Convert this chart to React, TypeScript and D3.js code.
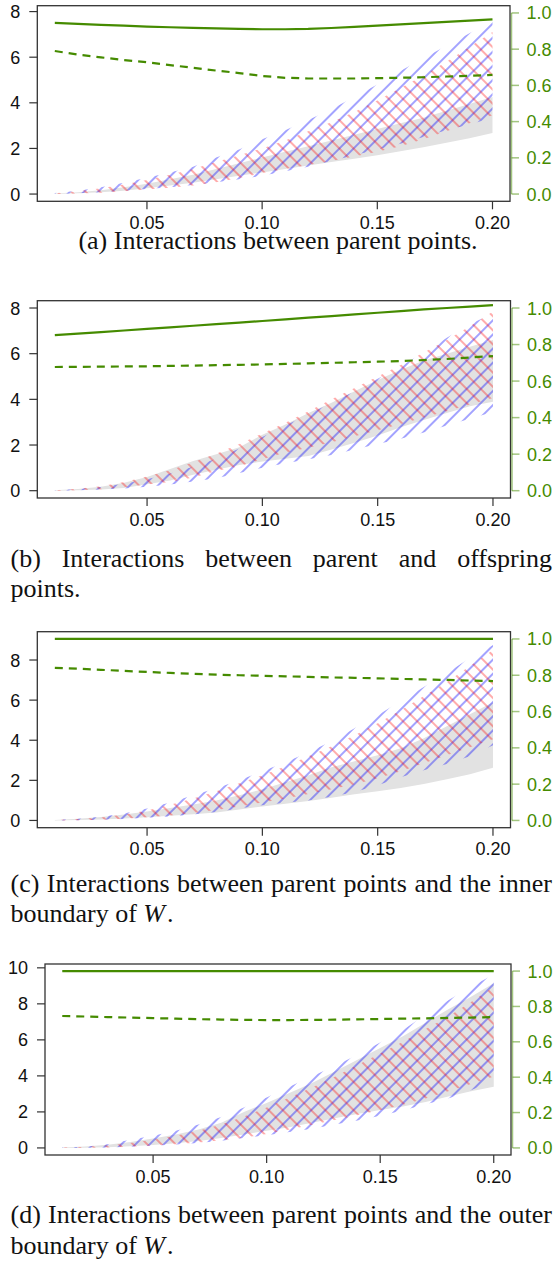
import React, { useEffect, useRef } from 'react';
import * as d3 from 'd3';

// x values shared by all four panels
const xs = [0.01, 0.02, 0.03, 0.04, 0.05, 0.06, 0.07, 0.08, 0.09, 0.10,
    0.11, 0.12, 0.13, 0.14, 0.15, 0.16, 0.17, 0.18, 0.19, 0.20];
const xTicks = [0.05, 0.10, 0.15, 0.20];
const rightTicks = [0, 0.2, 0.4, 0.6, 0.8, 1.0];

// (a) parent points
const aSolid = [0.945, 0.940, 0.934, 0.930, 0.925, 0.921, 0.918, 0.915, 0.912, 0.910, 0.910, 0.912, 0.917, 0.923, 0.930, 0.937, 0.944, 0.951, 0.958, 0.965];
const aDashed = [0.79, 0.77, 0.755, 0.74, 0.728, 0.712, 0.697, 0.682, 0.668, 0.652, 0.642, 0.638, 0.638, 0.638, 0.64, 0.642, 0.645, 0.649, 0.653, 0.658];
const aGreyLo = [0.0, 0.03, 0.08, 0.15, 0.25, 0.38, 0.5, 0.65, 0.8, 0.95, 1.1, 1.25, 1.4, 1.55, 1.7, 1.88, 2.05, 2.25, 2.45, 2.68];
const aGreyHi = [0.02, 0.08, 0.17, 0.3, 0.45, 0.65, 0.85, 1.1, 1.35, 1.6, 1.85, 2.1, 2.35, 2.6, 2.85, 3.1, 3.35, 3.65, 3.95, 4.26];
const aBlueLo = [0.0, 0.03, 0.08, 0.15, 0.22, 0.3, 0.4, 0.52, 0.65, 0.8, 1.0, 1.2, 1.45, 1.7, 1.95, 2.2, 2.5, 2.8, 3.05, 3.35];
const aBlueHi = [0.05, 0.15, 0.3, 0.5, 0.72, 0.95, 1.2, 1.6, 1.95, 2.4, 2.8, 3.25, 3.72, 4.26, 4.8, 5.4, 5.95, 6.5, 7.05, 7.6];
const aRedLo = [0.0, 0.02, 0.06, 0.12, 0.2, 0.28, 0.38, 0.52, 0.7, 0.92, 1.1, 1.27, 1.45, 1.65, 1.85, 2.1, 2.4, 2.75, 3.1, 3.45];
const aRedHi = [0.04, 0.12, 0.25, 0.42, 0.62, 0.85, 1.1, 1.4, 1.7, 2.0, 2.35, 2.75, 3.15, 3.6, 4.1, 4.65, 5.2, 5.8, 6.45, 7.1];

// (b) parent and offspring
const bSolid = [0.852, 0.86, 0.868, 0.877, 0.886, 0.894, 0.903, 0.912, 0.92, 0.929, 0.938, 0.947, 0.956, 0.965, 0.974, 0.983, 0.992, 1.0, 1.008, 1.016];
const bDashed = [0.677, 0.678, 0.679, 0.68, 0.681, 0.683, 0.685, 0.687, 0.689, 0.691, 0.694, 0.697, 0.7, 0.703, 0.706, 0.71, 0.715, 0.721, 0.729, 0.737];
const bGreyLo = [0.0, 0.02, 0.05, 0.12, 0.28, 0.45, 0.7, 0.92, 1.12, 1.28, 1.4, 1.52, 1.8, 2.1, 2.42, 2.78, 3.1, 3.4, 3.7, 3.9];
const bGreyHi = [0.02, 0.07, 0.17, 0.35, 0.6, 0.95, 1.3, 1.6, 1.9, 2.45, 2.9, 3.4, 3.85, 4.35, 4.85, 5.3, 5.7, 6.0, 6.3, 6.6];
const bBlueLo = [0.0, 0.02, 0.05, 0.1, 0.17, 0.27, 0.4, 0.55, 0.78, 1.0, 1.2, 1.38, 1.56, 1.8, 2.05, 2.28, 2.55, 2.85, 3.15, 3.45];
const bBlueHi = [0.02, 0.07, 0.16, 0.3, 0.5, 0.75, 1.05, 1.4, 1.85, 2.35, 2.85, 3.35, 3.85, 4.35, 4.9, 5.45, 6.05, 6.7, 7.3, 7.75];
const bRedLo = [0.0, 0.02, 0.06, 0.15, 0.27, 0.38, 0.58, 0.86, 1.07, 1.38, 1.67, 1.88, 2.12, 2.38, 2.65, 2.92, 3.2, 3.48, 3.77, 4.06];
const bRedHi = [0.02, 0.08, 0.2, 0.38, 0.62, 0.9, 1.25, 1.62, 2.05, 2.5, 2.98, 3.48, 4.0, 4.5, 5.0, 5.5, 6.05, 6.6, 7.2, 7.85];

// (c) parent points and inner boundary
const cSolid = [1, 1, 1, 1, 1, 1, 1, 1, 1, 1, 1, 1, 1, 1, 1, 1, 1, 1, 1, 1];
const cDashed = [0.841, 0.836, 0.83, 0.824, 0.818, 0.813, 0.808, 0.803, 0.8, 0.797, 0.794, 0.791, 0.788, 0.786, 0.783, 0.78, 0.777, 0.774, 0.771, 0.768];
const cGreyLo = [0.0, 0.02, 0.05, 0.1, 0.16, 0.23, 0.31, 0.4, 0.55, 0.7, 0.83, 0.97, 1.13, 1.3, 1.45, 1.62, 1.82, 2.05, 2.3, 2.63];
const cGreyHi = [0.02, 0.08, 0.17, 0.3, 0.45, 0.62, 0.8, 1.0, 1.25, 1.55, 1.9, 2.25, 2.65, 2.95, 3.25, 3.6, 4.1, 4.7, 5.3, 5.9];
const cBlueLo = [0.0, 0.01, 0.03, 0.07, 0.13, 0.2, 0.3, 0.42, 0.6, 0.76, 0.88, 1.0, 1.18, 1.42, 1.75, 2.15, 2.5, 2.82, 3.2, 3.75];
const cBlueHi = [0.02, 0.08, 0.18, 0.35, 0.6, 0.9, 1.25, 1.6, 2.0, 2.45, 2.9, 3.4, 3.95, 4.6, 5.25, 5.95, 6.65, 7.35, 8.1, 8.75];
const cRedLo = [0.0, 0.01, 0.04, 0.09, 0.16, 0.25, 0.37, 0.52, 0.7, 0.9, 1.1, 1.32, 1.55, 1.8, 2.1, 2.45, 2.85, 3.25, 3.65, 4.05];
const cRedHi = [0.02, 0.07, 0.15, 0.3, 0.5, 0.78, 1.1, 1.45, 1.85, 2.25, 2.7, 3.2, 3.7, 4.25, 4.85, 5.5, 6.2, 6.9, 7.7, 8.5];

// (d) parent points and outer boundary
const dSolid = [1, 1, 1, 1, 1, 1, 1, 1, 1, 1, 1, 1, 1, 1, 1, 1, 1, 1, 1, 1];
const dDashed = [0.746, 0.743, 0.74, 0.737, 0.734, 0.731, 0.728, 0.726, 0.724, 0.723, 0.723, 0.724, 0.725, 0.727, 0.729, 0.731, 0.733, 0.735, 0.737, 0.74];
const dGreyLo = [0.0, 0.01, 0.04, 0.09, 0.16, 0.26, 0.38, 0.55, 0.75, 0.95, 1.15, 1.4, 1.65, 1.88, 2.1, 2.3, 2.55, 2.85, 3.15, 3.4];
const dGreyHi = [0.02, 0.08, 0.18, 0.33, 0.52, 0.75, 1.02, 1.4, 2.0, 2.5, 3.05, 3.6, 4.25, 4.9, 5.55, 6.2, 6.95, 7.7, 8.4, 9.15];
const dBlueLo = [0.0, 0.01, 0.03, 0.07, 0.12, 0.19, 0.28, 0.4, 0.55, 0.7, 0.88, 1.07, 1.3, 1.52, 1.78, 2.08, 2.42, 2.75, 3.2, 3.75];
const dBlueHi = [0.02, 0.07, 0.2, 0.45, 0.67, 0.95, 1.3, 1.72, 2.25, 2.8, 3.4, 3.98, 4.55, 5.18, 5.85, 6.55, 7.4, 8.2, 8.95, 9.63];
const dRedLo = [0.0, 0.01, 0.03, 0.07, 0.13, 0.2, 0.3, 0.42, 0.57, 0.78, 1.02, 1.28, 1.55, 1.82, 2.1, 2.4, 2.75, 3.15, 3.55, 3.96];
const dRedHi = [0.02, 0.06, 0.14, 0.28, 0.45, 0.68, 0.95, 1.3, 1.75, 2.25, 2.8, 3.35, 3.95, 4.6, 5.25, 5.9, 6.6, 7.3, 8.1, 8.95];

const GREEN = '#458B00';

const panels = [
    { id: 'a', box: [37.3, 510, 5.7, 201.3], ymax: 7.94, yTicks: [0, 2, 4, 6, 8],
      solid: aSolid, dashed: aDashed, greyLo: aGreyLo, greyHi: aGreyHi, blueLo: aBlueLo, blueHi: aBlueHi, redLo: aRedLo, redHi: aRedHi },
    { id: 'b', box: [37.3, 510.5, 300.7, 498], ymax: 8.0, yTicks: [0, 2, 4, 6, 8],
      solid: bSolid, dashed: bDashed, greyLo: bGreyLo, greyHi: bGreyHi, blueLo: bBlueLo, blueHi: bBlueHi, redLo: bRedLo, redHi: bRedHi },
    { id: 'c', box: [37.3, 510.5, 631.7, 827.7], ymax: 9.05, yTicks: [0, 2, 4, 6, 8],
      solid: cSolid, dashed: cDashed, greyLo: cGreyLo, greyHi: cGreyHi, blueLo: cBlueLo, blueHi: cBlueHi, redLo: cRedLo, redHi: cRedHi },
    { id: 'd', box: [45, 511, 964, 1155], ymax: 9.82, yTicks: [0, 2, 4, 6, 8, 10],
      solid: dSolid, dashed: dDashed, greyLo: dGreyLo, greyHi: dGreyHi, blueLo: dBlueLo, blueHi: dBlueHi, redLo: dRedLo, redHi: dRedHi },
];

const captions = [
    { lines: ['(a) Interactions between parent points.'], ys: [249], centered: true, italicW: false },
    { lines: ['(b) Interactions between parent and offspring', 'points.'], ys: [567, 597], centered: false, italicW: false },
    { lines: ['(c) Interactions between parent points and the inner', 'boundary of '], ys: [892, 922], centered: false, italicW: true },
    { lines: ['(d) Interactions between parent points and the outer', 'boundary of '], ys: [1223, 1254], centered: false, italicW: true },
];

const CAP_LEFT = 10.5;
const CAP_RIGHT = 552;
const capFont = { fontFamily: '"Liberation Serif", "Times New Roman", serif', fontSize: 26, fill: '#111' };
const tickFont = { fontFamily: '"Liberation Sans", Arial, sans-serif', fontSize: 18 };

function JustifiedLine({ text, y }: { text: string; y: number }) {
    const ref = useRef<SVGTextElement>(null);
    useEffect(() => {
        const el = ref.current;
        if (!el) return;
        el.style.wordSpacing = '0px';
        const natural = el.getComputedTextLength();
        const gaps = text.split(' ').length - 1;
        if (gaps > 0) el.style.wordSpacing = `${(CAP_RIGHT - CAP_LEFT - natural) / gaps}px`;
    }, [text]);
    return <text ref={ref} x={CAP_LEFT} y={y} style={capFont}>{text}</text>;
}

function Panel({ p }: { p: typeof panels[number] }) {
    const [left, right, top, bottom] = p.box;
    const x = d3.scaleLinear().domain([0.01 - 0.0076, 0.20 + 0.0076]).range([left, right]);
    const pad = p.ymax * 0.04;
    const y = d3.scaleLinear().domain([-pad, p.ymax + pad]).range([bottom, top]);
    const yR = d3.scaleLinear().domain([-0.04, 1.04]).range([bottom, top]);

    const band = (lo: number[], hi: number[]) =>
        d3.area<number>().x((_, i) => x(xs[i])).y0((_, i) => y(lo[i])).y1((_, i) => y(hi[i]))(xs) || '';
    const line = (vals: number[]) =>
        d3.line<number>().x((_, i) => x(xs[i])).y((_, i) => yR(vals[i]))(xs) || '';

    return (
        <g>
            <path d={band(p.greyLo, p.greyHi)} fill="#e2e2e2" />
            <path d={band(p.blueLo, p.blueHi)} fill="url(#hatchBlue)" />
            <path d={band(p.redLo, p.redHi)} fill="url(#hatchRed)" />
            <path d={line(p.solid)} fill="none" stroke={GREEN} strokeWidth={2.2} />
            <path d={line(p.dashed)} fill="none" stroke={GREEN} strokeWidth={2.2} strokeDasharray="8,6" />

            <rect x={left} y={top} width={right - left} height={bottom - top} fill="none" stroke="#333" strokeWidth={1.3} />

            {/* bottom axis */}
            {xTicks.map(t => (
                <g key={t}>
                    <line x1={x(t)} x2={x(t)} y1={bottom} y2={bottom + 8} stroke="#333" strokeWidth={1.2} />
                    <text x={x(t)} y={bottom + 27.5} textAnchor="middle" style={tickFont} fill="#111">{t.toFixed(2)}</text>
                </g>
            ))}

            {/* left axis */}
            {p.yTicks.map(t => (
                <g key={t}>
                    <line x1={left - 8} x2={left} y1={y(t)} y2={y(t)} stroke="#333" strokeWidth={1.2} />
                    <text x={left - 17} y={y(t) + 6.5} textAnchor="end" style={tickFont} fill="#111">{t}</text>
                </g>
            ))}

            {/* right axis */}
            <line x1={right + 1.5} x2={right + 1.5} y1={yR(0)} y2={yR(1)} stroke={GREEN} strokeOpacity={0.5} strokeWidth={1.5} />
            {rightTicks.map(t => (
                <g key={t}>
                    <line x1={right + 1.5} x2={right + 9} y1={yR(t)} y2={yR(t)} stroke={GREEN} strokeOpacity={0.5} strokeWidth={1.5} />
                    <text x={right + 16.5} y={yR(t) + 6.5} style={tickFont} fill={GREEN}>{t.toFixed(1)}</text>
                </g>
            ))}
        </g>
    );
}

export default function App() {
    useEffect(() => {
        document.body.style.margin = '0';
        document.body.style.background = '#fff';
    }, []);

    return (
        <svg width={557} height={1263} viewBox="0 0 557 1263" style={{ display: 'block', background: '#fff' }}>
            <defs>
                <pattern id="hatchBlue" patternUnits="userSpaceOnUse" width={10} height={10} patternTransform="rotate(45)">
                    <line x1={5} y1={0} x2={5} y2={10} stroke="rgba(0,0,255,0.4)" strokeWidth={1.8} />
                </pattern>
                <pattern id="hatchRed" patternUnits="userSpaceOnUse" width={10} height={10} patternTransform="rotate(-45)">
                    <line x1={5} y1={0} x2={5} y2={10} stroke="rgba(255,0,0,0.36)" strokeWidth={1.8} />
                </pattern>
            </defs>

            {panels.map(p => <Panel key={p.id} p={p} />)}

            {captions.map((c, ci) => (
                <g key={ci}>
                    {c.lines.map((ln, li) => {
                        if (c.centered) {
                            return <text key={li} x={278} y={c.ys[li]} textAnchor="middle" style={capFont}>{ln}</text>;
                        }
                        if (li === 0) return <JustifiedLine key={li} text={ln} y={c.ys[li]} />;
                        return (
                            <text key={li} x={CAP_LEFT} y={c.ys[li]} style={capFont} xmlSpace="preserve">
                                {ln}
                                {c.italicW && <tspan fontStyle="italic">W</tspan>}
                                {c.italicW && <tspan dx={2}>.</tspan>}
                            </text>
                        );
                    })}
                </g>
            ))}
        </svg>
    );
}
